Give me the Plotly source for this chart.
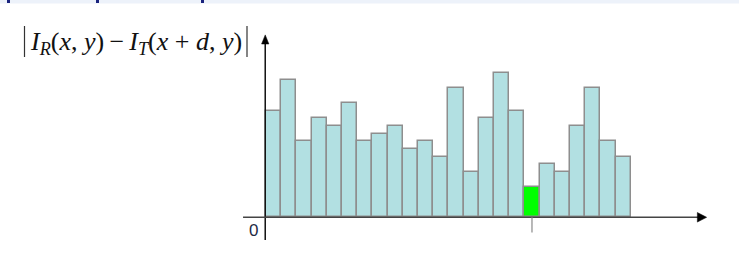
import plotly.graph_objects as go

# ---- data ----
bins = list(range(24))
values = [14, 18, 10, 13, 12, 15, 10, 11, 12, 9, 10, 8, 17, 6, 13, 19, 14, 4, 7, 6, 12, 17, 10, 8]
highlight_index = 17
y_label = ("<i>I</i><sub><i>R</i></sub>(<i>x</i>, <i>y</i>)\u2009\u2212\u2009"
           "<i>I</i><sub><i>T</i></sub>(<i>x</i> + <i>d</i>, <i>y</i>)")
origin_label = "0"

W, H = 739, 255
# axis ranges chosen so 1 bin = 15.2 px and 1 unit = 7.6 px
x_range = [-18.0, 30.62]
y_range = [-4.96, 28.59]

fill = "#b2e0e2"
colors = ["#00ff00" if i == highlight_index else fill for i in bins]

fig = go.Figure()
fig.add_trace(go.Bar(
    x=bins, y=values, width=1.0,
    marker=dict(color=colors, line=dict(color="#8e8e8e", width=1.5)),
    hoverinfo="skip",
))

shapes = []
# y axis line and arrow
shapes.append(dict(type="line", xref="x", yref="y", x0=-0.55, x1=-0.55, y0=-3.0, y1=23.0,
                   line=dict(color="#111111", width=1.5)))
shapes.append(dict(type="path", xref="x", yref="y",
                   path="M -0.55 24.0 L -0.79 22.8 L -0.31 22.8 Z",
                   fillcolor="#000000", line=dict(color="#000000", width=0.5)))
# x axis line and arrow
shapes.append(dict(type="line", xref="x", yref="y", x0=-2.01, x1=27.95, y0=0, y1=0,
                   line=dict(color="#444444", width=1.5)))
shapes.append(dict(type="path", xref="x", yref="y",
                   path="M 28.49 0 L 27.88 0.63 L 27.88 -0.63 Z",
                   fillcolor="#000000", line=dict(color="#000000", width=0.5)))
# small tick under the highlighted bin
shapes.append(dict(type="line", xref="x", yref="y", x0=highlight_index, x1=highlight_index, y0=0, y1=-2.0,
                   line=dict(color="#8a8a8a", width=1.2)))
# absolute value bars around the label
for px in (24.5, 247.0):
    shapes.append(dict(type="line", xref="paper", yref="paper",
                       x0=px / W, x1=px / W, y0=1 - 26 / H, y1=1 - 57 / H,
                       line=dict(color="#333333", width=1.2)))
# top decorative band (cropped slide header)
shapes.append(dict(type="rect", xref="paper", yref="paper", x0=0, x1=1, y0=1 - 3.5 / H, y1=1,
                   fillcolor="#edf2fa", line=dict(width=0), layer="below"))
for px0, px1 in ((7, 10), (96, 99), (201, 204)):
    shapes.append(dict(type="rect", xref="paper", yref="paper", x0=px0 / W, x1=px1 / W,
                       y0=1 - 3 / H, y1=1, fillcolor="#1a237e", line=dict(width=0)))

annotations = [
    dict(text=y_label, xref="paper", yref="paper", x=136 / W, y=1 - 43 / H,
         xanchor="center", yanchor="middle", showarrow=False,
         font=dict(family="Liberation Serif, Times New Roman, serif", size=26, color="#111111")),
    dict(text=origin_label, xref="paper", yref="paper", x=253.5 / W, y=1 - 230.5 / H,
         xanchor="center", yanchor="middle", showarrow=False,
         font=dict(family="Liberation Sans, Arial, sans-serif", size=17, color="#1e2a44")),
]

fig.update_layout(
    width=W, height=H, margin=dict(l=0, r=0, t=0, b=0),
    paper_bgcolor="white", plot_bgcolor="white",
    showlegend=False, bargap=0,
    xaxis=dict(range=x_range, visible=False, fixedrange=True),
    yaxis=dict(range=y_range, visible=False, fixedrange=True),
    shapes=shapes, annotations=annotations,
)
fig.write_html("out.html")
